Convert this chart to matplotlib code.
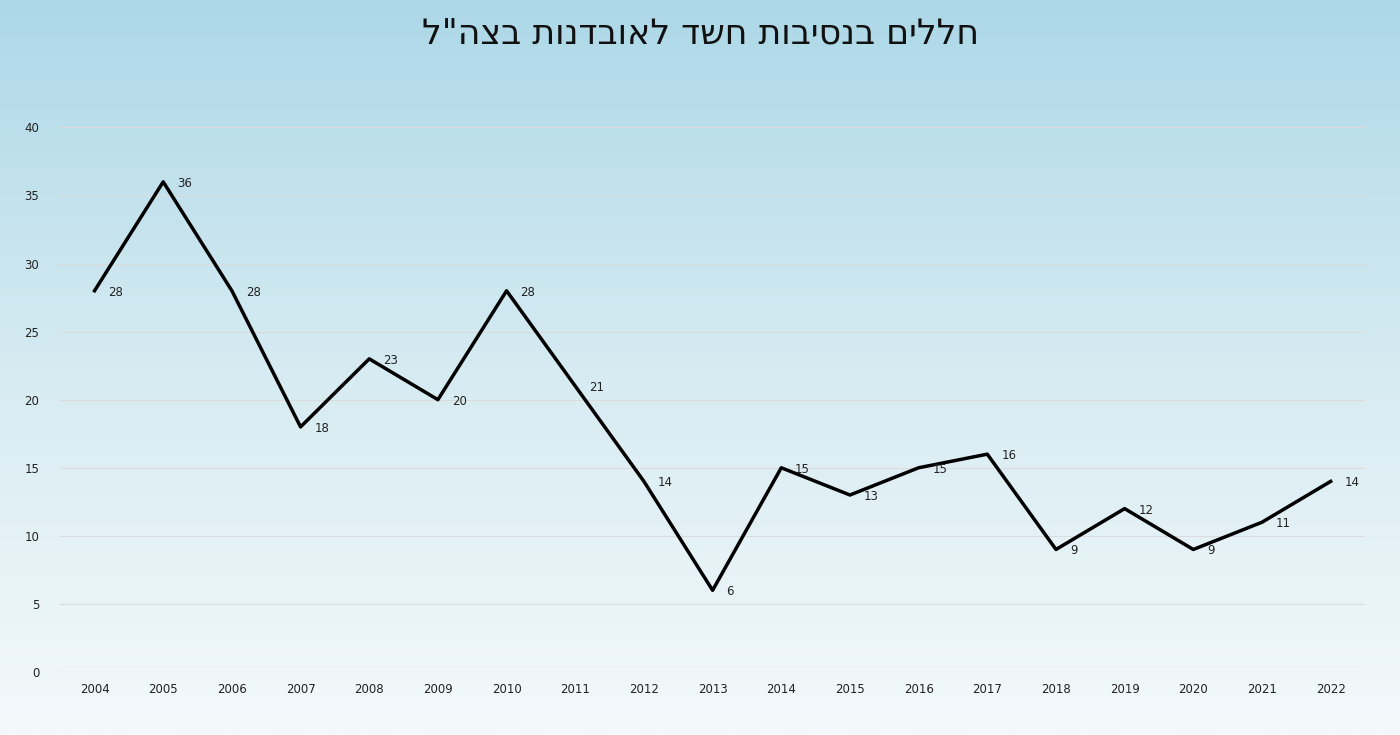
import numpy as np
import matplotlib.pyplot as plt
from matplotlib.colors import LinearSegmentedColormap

years = [str(y) for y in range(2004, 2023)]
values = [28, 36, 28, 18, 23, 20, 28, 21, 14, 6, 15, 13, 15, 16, 9, 12, 9, 11, 14]
title = 'חללים בנסיבות חשד לאובדנות בצה"ל'

fig = plt.figure(figsize=(14, 7.35), dpi=100)

# background gradient
bg = fig.add_axes([0, 0, 1, 1], zorder=0)
cmap = LinearSegmentedColormap.from_list("bg", ["#add8e8", "#d6ebf2", "#f4f9fb"])
bg.imshow(np.linspace(0, 1, 256).reshape(-1, 1), aspect="auto", cmap=cmap,
          extent=[0, 1, 0, 1])
bg.axis("off")

ax = fig.add_axes([0.043, 0.0857, 0.932, 0.741], zorder=1)
ax.patch.set_alpha(0)
x = np.arange(len(years))
ax.plot(x, values, color="black", lw=2.5)
for xi, v in zip(x, values):
    ax.annotate(str(v), (xi, v), xytext=(10, -1), textcoords="offset points",
                fontsize=8.5, va="center", color="#222222")

ax.set_xlim(-0.5, len(years) - 0.5)
ax.set_ylim(0, 40)
ax.set_yticks(range(0, 41, 5))
ax.set_xticks(x)
ax.set_xticklabels(years)
ax.tick_params(length=0, labelsize=8.5, colors="#222222", pad=8)
ax.tick_params(axis="y", pad=15)
ax.grid(axis="y", color="#dcdcdc", lw=0.8)
for s in ax.spines.values():
    s.set_visible(False)
ax.axhline(0, color="#cccccc", lw=0.8)

fig.text(0.5, 0.955, title[::-1], ha="center", va="center", fontsize=25,
         family=["DejaVu Sans"], color="#111111")

fig.savefig("out.png", dpi=100)
